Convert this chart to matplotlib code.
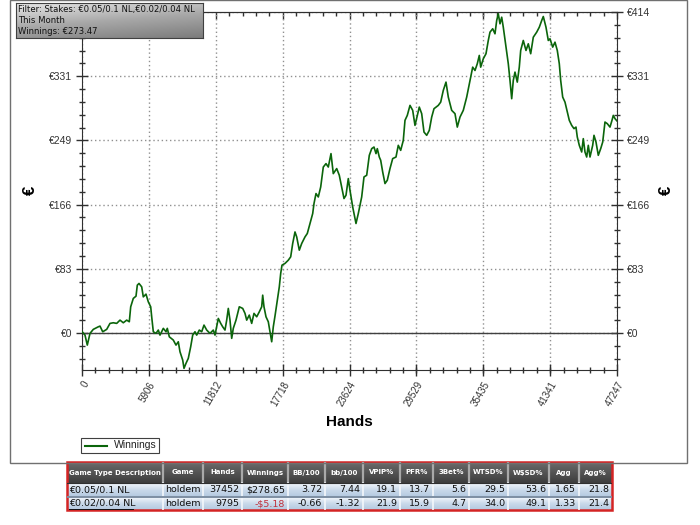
import matplotlib
matplotlib.use('Agg')
import matplotlib.pyplot as plt
import numpy as np
from matplotlib.patches import Rectangle
from matplotlib.lines import Line2D
from matplotlib.colors import LinearSegmentedColormap
from matplotlib.ticker import AutoMinorLocator

plt.rcParams['font.family'] = ['Liberation Sans', 'DejaVu Sans']

# winnings curve (hands, euros)
hands = [0, 265, 468, 706, 998, 1439, 1590, 1828, 2181, 2473, 2764, 3064, 3356, 3647, 3947, 4177,
         4301, 4530, 4769, 4884, 5034, 5272, 5413, 5652, 5855, 6067, 6155, 6297, 6535, 6738, 6888,
         7180, 7418, 7533, 7710, 8063, 8301, 8504, 8654, 8893, 9008, 9184, 9387, 9599, 9776, 9979,
         10129, 10359, 10571, 10774, 11012, 11304, 11595, 11745, 11895, 12037, 12249, 12425, 12628,
         12778, 12920, 13070, 13220, 13361, 13600, 13891, 14192, 14395, 14545, 14774, 14986, 15189,
         15428, 15657, 15869, 15958, 16072, 16249, 16452, 16602, 16752, 16894, 17044, 17247, 17424,
         17547, 17662, 17927, 18218, 18430, 18607, 18810, 18960, 19190, 19402, 19693, 19896, 20135,
         20373, 20488, 20665, 20868, 21080, 21309, 21548, 21751, 21989, 22192, 22493, 22722, 22934,
         23137, 23314, 23517, 23667, 23906, 24197, 24400, 24700, 24903, 25142, 25372, 25584, 25787,
         25963, 26078, 26255, 26378, 26555, 26758, 26961, 27199, 27438, 27729, 27932, 28144, 28374,
         28524, 28727, 28966, 29204, 29407, 29610, 29787, 29999, 30202, 30441, 30670, 30882, 31085,
         31465, 31677, 31906, 32145, 32348, 32648, 32940, 33143, 33381, 33673, 33973, 34264, 34503,
         34706, 34909, 35086, 35209, 35439, 35677, 35880, 36030, 36269, 36472, 36622, 36763, 36914,
         37064, 37205, 37444, 37647, 37797, 37947, 38088, 38238, 38441, 38618, 38742, 38971, 39210,
         39413, 39625, 39855, 40155, 40385, 40597, 40738, 40976, 41179, 41329, 41567, 41771, 41974,
         42151, 42274, 42451, 42654, 42857, 43034, 43246, 43449, 43625, 43740, 43917, 44129, 44270,
         44420, 44570, 44712, 44862, 45100, 45215, 45392, 45595, 45807, 45984, 46186, 46390, 46628,
         46804, 46920, 47070, 47247]
winnings = [2, -2.6, -15.5, -0.4, 4.8, 8.1, 9.0, 1.7, 4.8, 12.5, 13.3, 12.5, 16.7, 13.3, 16.7, 14.6,
            33.9, 44.7, 47.6, 61.8, 64.0, 59.6, 46.7, 50.2, 40.3, 33.9, 21.0, 1.7, -0.4, 3.9, -2.6,
            6.1, 1.7, 6.1, -4.8, -9.0, -15.5, -11.2, -24.1, -34.8, -45.5, -39.0, -32.6, -17.6, -2.6, 1.7,
            -2.6, 3.9, 1.7, 10.3, 3.9, -0.4, 3.9, -2.6, 8.1, 18.9, 12.5, 8.1, 3.9,
            16.7, 31.8, 16.7, -6.8, 6.1, 16.7, 33.9, 31.8, 25.4, 16.7, 23.2, 12.5, 25.4,
            21.0, 27.4, 33.9, 48.9, 33.9, 21.0, 14.6, 1.7, -11.2, 8.1, 22.0, 42.5, 59.6,
            76.9, 87.6, 89.8, 94.0, 98.3, 115.5, 130.4, 124.0, 106.9, 115.5, 124.0, 128.4, 141.3,
            154.1, 167.0, 179.9, 175.5, 188.4, 214.1, 218.5, 214.1, 231.4, 205.6, 212.1, 203.5, 188.4,
            173.5, 177.7, 199.2, 184.1, 162.6, 141.3, 154.1, 175.5, 201.3, 203.5, 229.2, 237.8, 239.9,
            231.4, 237.8, 227.0, 222.8, 207.7, 192.8, 197.0, 212.1, 225.0, 227.0, 242.1, 235.6, 248.5,
            274.3, 280.7, 293.6, 287.2, 267.8, 280.7, 291.4, 282.9, 259.2, 255.0, 261.4, 278.5, 289.3,
            293.6, 297.8, 312.9, 323.6, 304.3, 287.2, 282.9, 265.6, 278.5, 287.2, 304.3, 325.8, 342.9,
            338.6, 347.3, 358.0, 342.9, 353.7, 360.2, 377.3, 388.0, 392.4, 385.9, 403.0, 411.7, 398.8,
            407.3, 394.4, 368.7, 347.3, 325.8, 302.2, 325.8, 336.5, 323.6, 342.9, 364.4, 377.3, 364.4,
            373.0, 360.2, 381.5, 388.0, 394.4, 403.0, 408.2, 394.4, 377.3, 379.5, 368.7, 375.1, 364.4,
            347.3, 325.8, 304.3, 297.8, 285.0, 274.3, 267.8, 263.6, 265.6, 252.8, 242.1, 233.5, 250.7,
            233.5, 227.0, 242.1, 227.0, 242.1, 255.0, 246.3, 229.2, 237.8, 246.3, 272.1, 270.0, 265.6,
            274.3, 280.7, 276.5, 273.5]

x_ticks = [0, 5906, 11812, 17718, 23624, 29529, 35435, 41341, 47247]
y_ticks = [0, 82.8, 165.6, 248.4, 331.2, 414]
y_tick_labels = ['€0', '€83', '€166', '€249', '€331', '€414']

filter_lines = ['Filter: Stakes: €0.05/0.1 NL,€0.02/0.04 NL', 'This Month', 'Winnings: €273.47']

table_header = ['Game Type Description', 'Game', 'Hands', 'Winnings', 'BB/100', 'bb/100', 'VPIP%',
                'PFR%', '3Bet%', 'WTSD%', 'W$SD%', 'Agg', 'Agg%']
table_rows = [
    ['€0.05/0.1 NL', 'holdem', '37452', '$278.65', '3.72', '7.44', '19.1', '13.7', '5.6', '29.5', '53.6', '1.65', '21.8'],
    ['€0.02/0.04 NL', 'holdem', '9795', '-$5.18', '-0.66', '-1.32', '21.9', '15.9', '4.7', '34.0', '49.1', '1.33', '21.4'],
]

W, H = 700, 525
fig = plt.figure(figsize=(7, 5.25), dpi=100)


def box(x0, y0, x1, y1):
    # pixel box -> figure fraction rect
    return [x0 / W, 1 - y1 / H, (x1 - x0) / W, (y1 - y0) / H]


# outer frame of the chart control
b = box(10, 0, 687, 463)
fig.add_artist(Rectangle((b[0], b[1]), b[2], b[3], transform=fig.transFigure,
                         fill=False, ec='#707070', lw=1))

ax = fig.add_axes(box(82, 12, 617, 370))
ax.plot(hands, winnings, color='#0b650b', lw=1.2, zorder=3)
ax.axhline(0, color='#404040', lw=1, zorder=2)
ax.set_xlim(0, 47247)
ax.set_ylim(-47.6, 414)
ax.set_xticks(x_ticks)
ax.set_xticklabels([str(t) for t in x_ticks], rotation=60, ha='right', va='top',
                   rotation_mode='anchor', fontsize=7, color='#333333')
ax.set_yticks(y_ticks)
ax.set_yticklabels(y_tick_labels, fontsize=7.5, color='#333333')
ax.xaxis.set_minor_locator(AutoMinorLocator(5))
ax.yaxis.set_minor_locator(AutoMinorLocator(5))
ax.tick_params(which='both', direction='inout', right=True, labelright=True, top=False,
               color='#303030', width=1)
ax.tick_params(which='major', length=8, pad=3)
ax.tick_params(which='minor', length=5)
ax.grid(True, which='major', linestyle=(0, (1, 2)), color='#909090', lw=1)
for s in ax.spines.values():
    s.set_color('#303030')
# the left top label sits under the filter box in the original
ax.yaxis.get_major_ticks()[-1].label1.set_visible(False)

# top ticks point inward only
axtop = ax.secondary_xaxis('top')
axtop.set_xticks(x_ticks)
axtop.set_xticklabels([])
axtop.xaxis.set_minor_locator(AutoMinorLocator(5))
axtop.tick_params(which='both', direction='in', color='#303030', width=1)
axtop.tick_params(which='major', length=5)
axtop.tick_params(which='minor', length=3)
axtop.spines['top'].set_color('#303030')

fig.text(349 / W, 1 - 422 / H, 'Hands', fontsize=11, fontweight='bold', ha='center', va='center')
fig.text(30 / W, 1 - 190 / H, '€', fontsize=12, fontweight='bold', rotation=90, ha='center', va='center')
fig.text(666 / W, 1 - 190 / H, '€', fontsize=12, fontweight='bold', rotation=90, ha='center', va='center')

# filter box top-left
axf = fig.add_axes(box(16, 3, 203, 38))
gy, gx = np.mgrid[0:1:40j, 0:1:120j]
grad = 0.7 * gy + 0.3 * gx
cm_f = LinearSegmentedColormap.from_list('f', ['#e6e6e6', '#a8a8a8', '#7c7c7c'])
axf.imshow(grad, cmap=cm_f, aspect='auto', extent=(0, 1, 0, 1), origin='upper')
axf.set_xlim(0, 1)
axf.set_ylim(0, 1)
axf.set_xticks([])
axf.set_yticks([])
for s in axf.spines.values():
    s.set_color('#404040')
axf.text(0.012, 0.5, '\n'.join(filter_lines), fontsize=6.1, family=['DejaVu Sans'],
         va='center', ha='left', linespacing=1.3, color='#111111')

# legend
lb = box(81, 438, 159, 453)
fig.add_artist(Rectangle((lb[0], lb[1]), lb[2], lb[3], transform=fig.transFigure,
                         fill=False, ec='#404040', lw=0.8))
fig.add_artist(Line2D([85 / W, 107 / W], [1 - 445.5 / H] * 2, transform=fig.transFigure,
                      color='#0b650b', lw=1.5))
fig.text(114 / W, 1 - 445.5 / H, 'Winnings', fontsize=7.5, va='center', ha='left', color='#222222')

# stats table
col_widths = [96, 40, 39, 46, 37, 38, 37, 33, 36, 39, 41, 30, 33]
aligns = ['left', 'center'] + ['right'] * 11
row_h = [21, 14, 13]
edges = np.concatenate([[0], np.cumsum(col_widths)])
tw = edges[-1]
th = sum(row_h)

axt = fig.add_axes(box(67, 462, 612, 510))
axt.axis('off')

cm_h = LinearSegmentedColormap.from_list('h', ['#6a6a6a', '#3e3e3e'])
cm_r = LinearSegmentedColormap.from_list('r', ['#f2f6fb', '#c9d9ea', '#b4c9e0'])
vg = np.linspace(0, 1, 30).reshape(-1, 1)
axt.imshow(vg, cmap=cm_h, aspect='auto', extent=(0, tw, row_h[0], 0))
y0 = row_h[0]
for h in row_h[1:]:
    axt.imshow(vg, cmap=cm_r, aspect='auto', extent=(0, tw, y0 + h, y0))
    y0 += h
axt.set_xlim(0, tw)
axt.set_ylim(th, 0)

for e in edges[1:-1]:
    axt.plot([e, e], [0, row_h[0]], color='#a8a8a8', lw=1.6)
    axt.plot([e, e], [row_h[0], th], color='#f4f7fb', lw=1.2)
axt.plot([0, tw], [row_h[0] + row_h[1]] * 2, color='#7d8fa3', lw=1.4)
axt.plot([0, tw], [row_h[0]] * 2, color='#303030', lw=0.8)

for j, name in enumerate(table_header):
    cx = (edges[j] + edges[j + 1]) / 2
    axt.text(cx, row_h[0] / 2, name, fontsize=5.0, fontweight='bold', color='white',
             ha='center', va='center', family=['DejaVu Sans'])

y0 = row_h[0]
for i, row in enumerate(table_rows):
    cy = y0 + row_h[i + 1] / 2
    for j, val in enumerate(row):
        if aligns[j] == 'left':
            x, ha = edges[j] + 2, 'left'
        elif aligns[j] == 'center':
            x, ha = (edges[j] + edges[j + 1]) / 2, 'center'
        else:
            x, ha = edges[j + 1] - 3, 'right'
        col = '#c0303c' if val.startswith('-$') else '#111111'
        axt.text(x, cy, val, fontsize=6.8, color=col, ha=ha, va='center', family=['DejaVu Sans'])
    y0 += row_h[i + 1]

# underline the second stake name
axt.plot([2, 66], [th - 1.5] * 2, color='#111111', lw=0.7)
axt.add_patch(Rectangle((0, 0), tw, th, fill=False, ec='#d42424', lw=1.8, clip_on=False))

fig.savefig('out.png', dpi=100)
